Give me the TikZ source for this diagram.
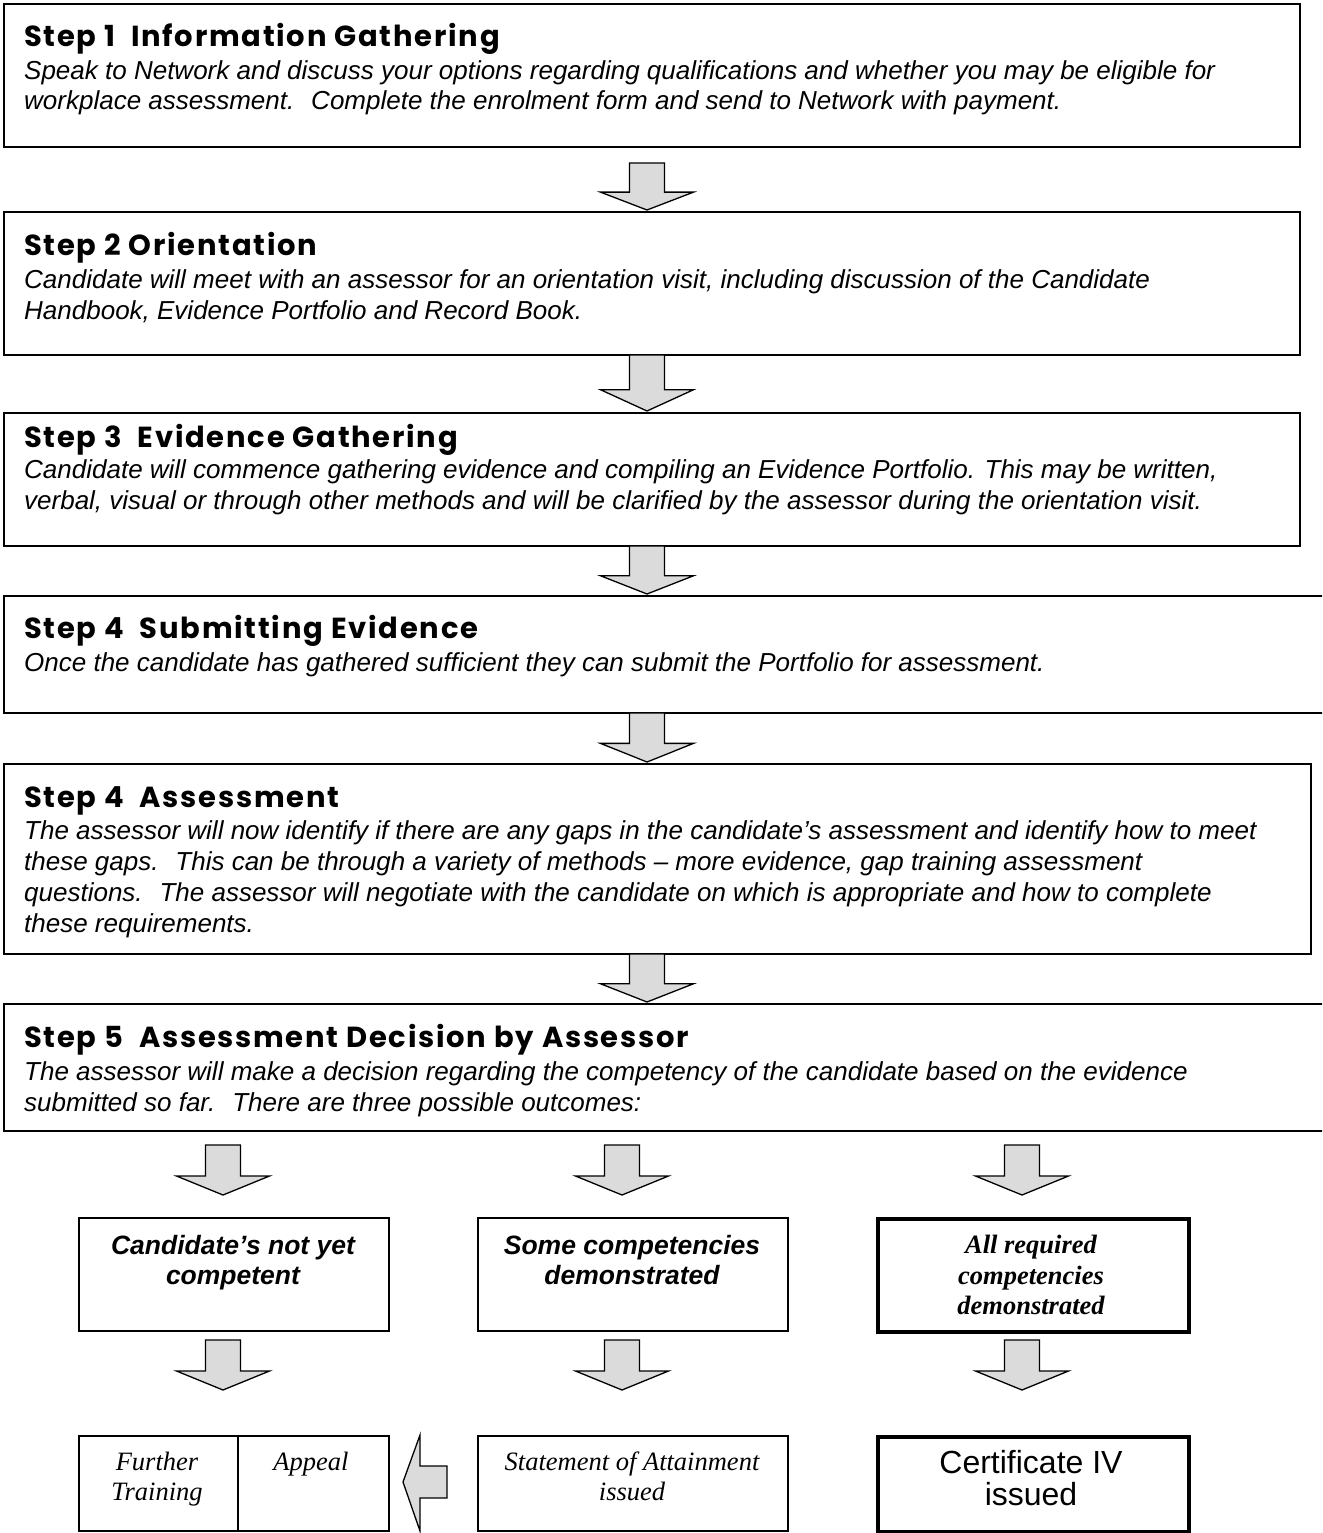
\documentclass[tikz,border=0pt]{standalone}
\usepackage{fontspec}
\setmainfont{Liberation Serif}
\setsansfont{Liberation Sans}
\newfontfamily\headfont[LetterSpace=6]{Poppins}
\newcommand\blkdown[3]{%
  \pgfmathsetmacro\blkbase{#2+0.62*(#3-#2)}%
  \draw[blockarr] ({#1-17.5},#2) -- ({#1+17.5},#2) -- ({#1+17.5},\blkbase) -- ({#1+46.5},\blkbase) -- (#1,#3) -- ({#1-46.5},\blkbase) -- ({#1-17.5},\blkbase) -- cycle;}
\begin{document}
\begin{tikzpicture}[x=1pt,y=-1pt,
  stepbox/.style={draw, line width=1.6pt, inner sep=0pt, anchor=north west},
  thickbox/.style={stepbox, line width=3.6pt},
  blockarr/.style={draw, fill=gray!28, line width=1.3pt, line join=miter},
  head/.style={anchor=base west, inner sep=0pt, font=\headfont\bfseries\fontsize{29}{32}\selectfont},
  body/.style={anchor=base west, inner sep=0pt, font=\sffamily\itshape\fontsize{26}{30}\selectfont},
  bsi/.style={anchor=base, inner sep=0pt, font=\sffamily\bfseries\itshape\fontsize{26.5}{30}\selectfont},
  tbi/.style={anchor=base, inner sep=0pt, font=\rmfamily\bfseries\itshape\fontsize{26.5}{30}\selectfont},
  ti/.style={anchor=base, inner sep=0pt, font=\rmfamily\itshape\fontsize{26.5}{30}\selectfont},
  sr/.style={anchor=base, inner sep=0pt, font=\sffamily\fontsize{32}{34}\selectfont}]
\useasboundingbox (0,0) rectangle (1322,1533);
\clip (0,0) rectangle (1322,1533);
\fill[white] (0,0) rectangle (1322,1533);

% step boxes
\node[stepbox, minimum width=1296pt, minimum height=143pt] (s1) at (3,3) {};
\node[stepbox, minimum width=1296pt, minimum height=143pt] (s2) at (3,211) {};
\node[stepbox, minimum width=1296pt, minimum height=133pt] (s3) at (3,412) {};
\node[stepbox, minimum width=1340pt, minimum height=117pt] (s4) at (3,595) {};
\node[stepbox, minimum width=1307pt, minimum height=190pt] (s5) at (3,763) {};
\node[stepbox, minimum width=1340pt, minimum height=127pt] (s6) at (3,1003) {};

% step texts
\node[head] (h1) at (24,47) {Step 1~ Information Gathering};
\node[body] (t11) at (24,80) {Speak to Network and discuss your options regarding qualifications and whether you may be eligible for};
\node[body] (t12) at (24,110) {workplace assessment.~ Complete the enrolment form and send to Network with payment.};

\node[head] (h2) at (24,255) {Step 2 Orientation};
\node[body] (t21) at (24,288) {Candidate will meet with an assessor for an orientation visit, including discussion of the Candidate};
\node[body] (t22) at (24,319) {Handbook, Evidence Portfolio and Record Book.};

\node[head] (h3) at (24,447) {Step 3~ Evidence Gathering};
\node[body] (t31) at (24,478) {Candidate will commence gathering evidence and compiling an Evidence Portfolio. This may be written,};
\node[body] (t32) at (24,509) {verbal, visual or through other methods and will be clarified by the assessor during the orientation visit.};

\node[head] (h4) at (24,638) {Step 4~ Submitting Evidence};
\node[body] (t41) at (24,671) {Once the candidate has gathered sufficient they can submit the Portfolio for assessment.};

\node[head] (h5) at (24,807) {Step 4~ Assessment};
\node[body] (t51) at (24,839) {The assessor will now identify if there are any gaps in the candidate’s assessment and identify how to meet};
\node[body] (t52) at (24,870) {these gaps.~ This can be through a variety of methods – more evidence, gap training assessment};
\node[body] (t53) at (24,901) {questions.~ The assessor will negotiate with the candidate on which is appropriate and how to complete};
\node[body] (t54) at (24,932) {these requirements.};

\node[head] (h6) at (24,1047) {Step 5~ Assessment Decision by Assessor};
\node[body] (t61) at (24,1080) {The assessor will make a decision regarding the competency of the candidate based on the evidence};
\node[body] (t62) at (24,1111) {submitted so far.~ There are three possible outcomes:};

% arrows between steps
\blkdown{647}{163}{210}
\blkdown{647}{355}{411}
\blkdown{647}{546}{594}
\blkdown{647}{713}{762}
\blkdown{647}{954}{1002}

% outcome boxes
\node[stepbox, minimum width=310pt, minimum height=113pt] (a) at (78,1217) {};
\node[stepbox, minimum width=310pt, minimum height=113pt] (b) at (477,1217) {};
\node[thickbox, minimum width=311pt, minimum height=113pt] (c) at (876,1217) {};

\node[bsi] (a1) at (233,1254) {Candidate’s not yet};
\node[bsi] (a2) at (233,1284) {competent};
\node[bsi] (b1) at (632,1254) {Some competencies};
\node[bsi] (b2) at (632,1284) {demonstrated};
\node[tbi] (c1) at (1031,1253) {All required};
\node[tbi] (c2) at (1031,1284) {competencies};
\node[tbi] (c3) at (1031,1314) {demonstrated};

\blkdown{223}{1145}{1195}
\blkdown{622}{1145}{1195}
\blkdown{1022}{1145}{1195}

\blkdown{223}{1340}{1390}
\blkdown{622}{1340}{1390}
\blkdown{1022}{1340}{1390}

% result boxes
\node[stepbox, minimum width=159pt, minimum height=95pt] (d1) at (78,1435) {};
\node[stepbox, minimum width=151pt, minimum height=95pt] (d2) at (237,1435) {};
\node[stepbox, minimum width=310pt, minimum height=95pt] (e) at (477,1435) {};
\node[thickbox, minimum width=311pt, minimum height=95pt] (f) at (876,1435) {};

\node[ti] (d11) at (157,1470) {Further};
\node[ti] (d12) at (157,1500) {Training};
\node[ti] (d21) at (311,1470) {Appeal};
\node[ti] (e1) at (632,1470) {Statement of Attainment};
\node[ti] (e2) at (632,1500) {issued};
\node[sr] (f1) at (1031,1473) {Certificate IV};
\node[sr] (f2) at (1031,1505) {issued};

% left arrow
\draw[blockarr] (447,1466) -- (420,1466) -- (420,1435) -- (403,1482) -- (420,1531) -- (420,1498) -- (447,1498) -- cycle;
\end{tikzpicture}
\end{document}
